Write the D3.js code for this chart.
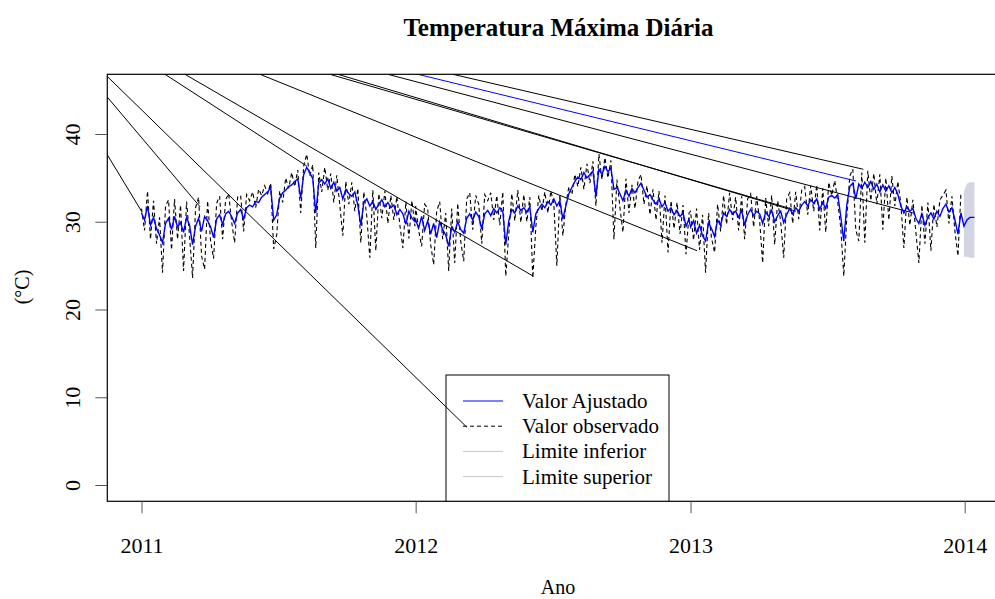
<!DOCTYPE html>
<html><head><meta charset="utf-8">
<script src="https://cdn.jsdelivr.net/npm/d3@7"></script>
<style>
body{margin:0;background:#fff}
svg{display:block}
text{font-family:"Liberation Serif","Times New Roman",serif;fill:#000}
</style>
</head><body>
<svg id="chart" width="995" height="599"></svg>
<script>
// ---------------- DATA ----------------
const title = "Temperatura Máxima Diária";
const xLabel = "Ano";
const yLabel = "(°C)";
const yearStarts = ["2011-01-01", "2012-01-01", "2013-01-01"];
const stepDays = 4;
const xTickLabels = ["2011", "2012", "2013", "2014"];
const yTicks = [0, 10, 20, 30, 40];

const fit2011 = [31.0,30.2,31.8,29.6,30.5,29.2,28.5,27.6,29.8,30.4,29.1,30.6,29.4,29.9,28.8,30.5,29.6,27.4,29.5,30.4,
28.9,30.6,30.1,29.4,28.2,30.3,30.8,29.7,30.9,31.2,30.6,29.8,31.0,31.4,30.3,31.6,31.9,31.7,32.3,32.2,
32.8,33.1,33.4,33.9,30.2,30.8,32.7,33.3,33.6,34.0,34.2,34.6,34.9,32.7,35.4,36.2,35.6,34.9,31.0,34.4,
34.8,34.3,34.9,33.8,34.5,33.5,33.9,32.6,33.7,33.2,32.9,33.4,31.9,29.6,32.2,32.6,31.8,32.3,31.4,32.0,
32.5,31.7,32.2,31.6,31.9,30.8,31.4,30.9,29.7,31.2,30.4,30.0];
const obs2011 = [31.5,29.0,33.5,28.0,32.4,27.5,30.5,24.2,31.8,32.5,26.8,32.6,28.0,31.9,24.4,32.3,28.4,23.6,31.6,32.8,
26.1,24.6,32.4,27.8,25.8,32.1,32.9,28.0,32.5,33.2,30.0,27.6,32.8,33.0,28.9,33.1,32.4,33.4,31.6,33.7,
33.0,34.1,33.2,34.4,26.9,28.5,33.5,32.2,35.0,33.8,35.6,34.0,35.9,31.0,36.4,37.7,35.2,36.5,27.0,35.6,
33.4,36.2,33.6,35.5,32.2,35.3,31.9,28.4,34.6,32.0,34.5,31.2,33.8,27.6,33.4,30.6,25.9,33.6,26.7,33.2,
30.4,33.5,29.8,33.0,30.2,32.9,29.6,27.0,32.3,28.1,32.4,29.5];

const fit2012 = [30.2,29.3,30.6,29.0,30.1,28.6,29.8,28.2,30.0,29.1,28.5,27.2,29.4,28.8,30.0,29.1,28.7,30.4,30.9,30.2,
31.1,30.6,29.2,30.9,31.3,30.7,31.5,31.0,31.6,31.2,27.4,30.1,31.4,31.0,31.8,31.3,31.6,31.1,31.7,28.8,
30.9,31.5,32.0,31.6,32.3,31.9,32.6,31.8,32.4,30.3,31.8,33.2,33.9,34.6,35.1,34.8,35.6,35.0,35.4,35.8,
32.9,36.0,35.4,36.3,35.7,36.1,33.7,33.9,33.2,32.4,33.6,32.9,33.8,33.3,33.9,34.4,33.6,32.8,33.1,32.5,
32.0,32.6,31.7,32.2,31.2,31.6,30.8,31.3,30.6,31.0,29.5,30.3];
const obs2012 = [31.8,29.0,27.2,32.0,31.5,27.4,25.1,31.2,32.3,28.0,31.0,24.4,31.5,25.3,32.1,27.8,25.5,32.6,33.3,29.1,
33.0,32.0,27.5,33.1,32.4,33.3,30.2,33.0,29.6,33.4,23.8,28.6,33.2,30.1,33.6,29.9,33.1,30.0,32.8,23.6,
29.4,33.0,31.2,33.4,31.0,33.5,32.1,25.0,33.1,28.4,32.0,34.0,33.1,35.4,34.0,36.2,33.7,36.6,34.4,36.9,
31.8,37.7,34.8,37.3,35.0,37.0,28.0,34.8,31.6,28.8,34.9,31.0,34.2,31.5,34.6,35.4,32.0,34.1,30.8,33.7,
30.2,33.5,27.6,33.0,26.5,32.4,29.2,32.2,28.6,31.9,26.3,31.0];

const fit2013 = [29.4,30.1,28.7,29.6,28.4,27.8,29.9,29.2,28.3,30.2,29.6,31.0,30.6,31.4,30.9,31.2,30.5,31.3,29.6,30.8,
31.4,30.7,31.2,30.9,29.8,31.1,30.6,31.3,30.0,30.7,31.2,29.9,30.8,31.5,30.9,31.6,31.2,31.9,32.3,31.8,
32.5,32.1,32.6,31.4,32.2,31.5,32.8,33.0,32.7,33.1,30.6,27.8,31.9,34.0,34.4,32.6,34.3,33.8,34.5,33.9,
34.6,33.7,34.3,33.4,34.2,33.5,34.1,33.3,33.9,33.1,31.8,31.0,31.7,31.2,31.5,30.4,29.8,30.9,29.6,30.5,
31.0,30.3,31.2,30.6,31.5,32.0,31.1,31.6,30.2,28.6,31.0];
const obs2013 = [31.2,27.9,31.5,26.8,30.8,24.2,31.0,28.1,26.5,32.0,28.9,33.0,29.7,33.3,30.2,32.8,29.0,32.9,28.0,32.6,
33.2,29.4,32.9,30.1,25.3,32.7,29.5,33.0,27.4,32.4,30.0,25.9,32.6,33.3,29.8,33.4,30.3,33.6,34.0,30.8,
34.1,31.2,34.2,29.0,33.8,28.8,34.5,33.0,34.7,32.2,29.3,23.8,30.5,35.2,36.0,29.1,27.8,35.6,27.6,35.8,
32.4,35.5,32.0,35.4,29.1,35.0,30.2,35.2,31.8,34.6,32.0,27.0,32.8,29.6,32.5,28.8,25.3,31.9,27.5,32.2,
26.7,32.0,29.4,32.5,33.0,33.6,29.8,32.9,28.9,26.1,33.3];

// forecast
const fcDates = ["2013-12-31", "2014-01-04", "2014-01-08", "2014-01-14"];
const fcFit = [29.5, 30.2, 30.5, 30.5];
const fcLow = [26.0, 26.0, 25.9, 25.9];
const fcUp = [33.4, 34.3, 34.5, 34.5];

// stray straight lines (day offsets from 2011-01-01, values in °C)
const fanSeries   = ["obs","obs","obs","obs","obs","obs","obs","obs","obs","fit","obs"];
const fanStartDay = [-46, -46, -46, 31.3, 57.9, 157.8, 251, 261.6, 328.2, 368.1, 414.7];
const fanStartVal = [37.7, 44.25, 46.6, 46.8, 46.8, 46.8, 46.8, 46.8, 46.8, 46.8, 46.8];
const fanEndDay   = [0, 78, 433, 220, 521.6, 739.6, 866, 871.4, 1027.5, 951.3, 961];
const fanEndVal   = [31.2, 31.7, 6.6, 36.35, 23.8, 26.7, 31.45, 31.2, 31.0, 34.64, 35.98];

const legendLabels = ["Valor Ajustado", "Valor observado", "Limite inferior", "Limite superior"];

// ---------------- DRAW ----------------
const svg = d3.select("#chart");
const parse = d3.utcParse("%Y-%m-%d");
const box = {left: 107.3, top: 74.3, right: 1030, bottom: 501.3};

const x = d3.scaleUtc()
  .domain([parse("2011-01-01"), parse("2014-01-01")])
  .range([141.5, 964.7]);
const y = d3.scaleLinear().domain([0, 40]).range([485, 134]);

function series(starts, arrs) {
  const out = [];
  arrs.forEach((arr, i) => {
    const s = parse(starts[i]);
    arr.forEach((v, k) => out.push({d: d3.utcDay.offset(s, k * stepDays), v}));
  });
  return out;
}
const obs = series(yearStarts, [obs2011, obs2012, obs2013]);
const fit = series(yearStarts, [fit2011, fit2012, fit2013]);
const fc = fcDates.map((d, i) => ({d: parse(d), v: fcFit[i], lo: fcLow[i], up: fcUp[i]}));

svg.append("defs").append("clipPath").attr("id", "clip")
  .append("rect").attr("x", box.left).attr("y", box.top)
  .attr("width", box.right - box.left).attr("height", box.bottom - box.top);

const g = svg.append("g").attr("clip-path", "url(#clip)");

const line = d3.line().x(p => x(p.d)).y(p => y(p.v));

// forecast band
g.append("path").datum(fc)
  .attr("d", d3.area().x(p => x(p.d)).y0(p => y(p.lo)).y1(p => y(p.up)).curve(d3.curveMonotoneX))
  .attr("fill", "#d3d6e0");

// observed
g.append("path").datum(obs).attr("d", line)
  .attr("fill", "none").attr("stroke", "#000").attr("stroke-width", 1.1)
  .attr("stroke-dasharray", "4,3");

// stray lines
const day0 = parse("2011-01-01");
const dayToDate = dd => new Date(day0.getTime() + dd * 86400000);
fanSeries.forEach((s, i) => {
  g.append("line")
    .attr("x1", x(dayToDate(fanStartDay[i]))).attr("y1", y(fanStartVal[i]))
    .attr("x2", x(dayToDate(fanEndDay[i]))).attr("y2", y(fanEndVal[i]))
    .attr("stroke", s === "fit" ? "#0000ff" : "#000").attr("stroke-width", 1);
});

// fitted
g.append("path").datum(fit.concat(fc.map(p => ({d: p.d, v: p.v})))).attr("d", line)
  .attr("fill", "none").attr("stroke", "#0000ff").attr("stroke-width", 1.4);

// legend
const lg = g.append("g");
lg.append("rect").attr("x", 446).attr("y", 375).attr("width", 223).attr("height", 140)
  .attr("fill", "none").attr("stroke", "#000").attr("stroke-width", 1);
const legStroke = [
  {c: "#0000ff", dash: null},
  {c: "#000", dash: "4,3"},
  {c: "#c8c8c8", dash: null},
  {c: "#c8c8c8", dash: null}
];
legendLabels.forEach((t, i) => {
  const yy = 401 + i * 25.2;
  lg.append("line").attr("x1", 463).attr("x2", 503).attr("y1", yy).attr("y2", yy)
    .attr("stroke", legStroke[i].c).attr("stroke-width", 1)
    .attr("stroke-dasharray", legStroke[i].dash);
  lg.append("text").attr("x", 522).attr("y", yy + 7).attr("font-size", 21).text(t);
});

// box
svg.append("rect").attr("x", box.left).attr("y", box.top)
  .attr("width", box.right - box.left).attr("height", box.bottom - box.top)
  .attr("fill", "none").attr("stroke", "#000").attr("stroke-width", 1.2);

// x axis
const xAxis = d3.axisBottom(x)
  .tickValues(xTickLabels.map(t => parse(t + "-01-01")))
  .tickFormat(d3.utcFormat("%Y")).tickSize(12);
const xa = svg.append("g").attr("transform", `translate(0,${box.bottom})`).call(xAxis);
xa.select(".domain").remove();
xa.selectAll(".tick line").attr("stroke", "#555");
xa.selectAll(".tick text").attr("y", 52).attr("dy", 0)
  .attr("font-size", 22).attr("font-family", "Liberation Serif").attr("fill", "#000");

// y axis
const yAxis = d3.axisLeft(y).tickValues(yTicks).tickSize(12);
const ya = svg.append("g").attr("transform", `translate(${box.left},0)`).call(yAxis);
ya.select(".domain").remove();
ya.selectAll(".tick line").attr("stroke", "#555");
ya.selectAll(".tick text")
  .attr("x", 0).attr("dy", 0)
  .attr("transform", "translate(-27,0) rotate(-90)")
  .attr("text-anchor", "middle")
  .attr("font-size", 22).attr("font-family", "Liberation Serif").attr("fill", "#000");

// titles
svg.append("text").attr("x", 558.5).attr("y", 36).attr("text-anchor", "middle")
  .attr("font-size", 25).attr("font-weight", "bold").text(title);
svg.append("text").attr("x", 558).attr("y", 594).attr("text-anchor", "middle")
  .attr("font-size", 20).text(xLabel);
svg.append("text").attr("transform", "translate(29,287) rotate(-90)").attr("text-anchor", "middle")
  .attr("font-size", 20).text(yLabel);
</script>
</body></html>
